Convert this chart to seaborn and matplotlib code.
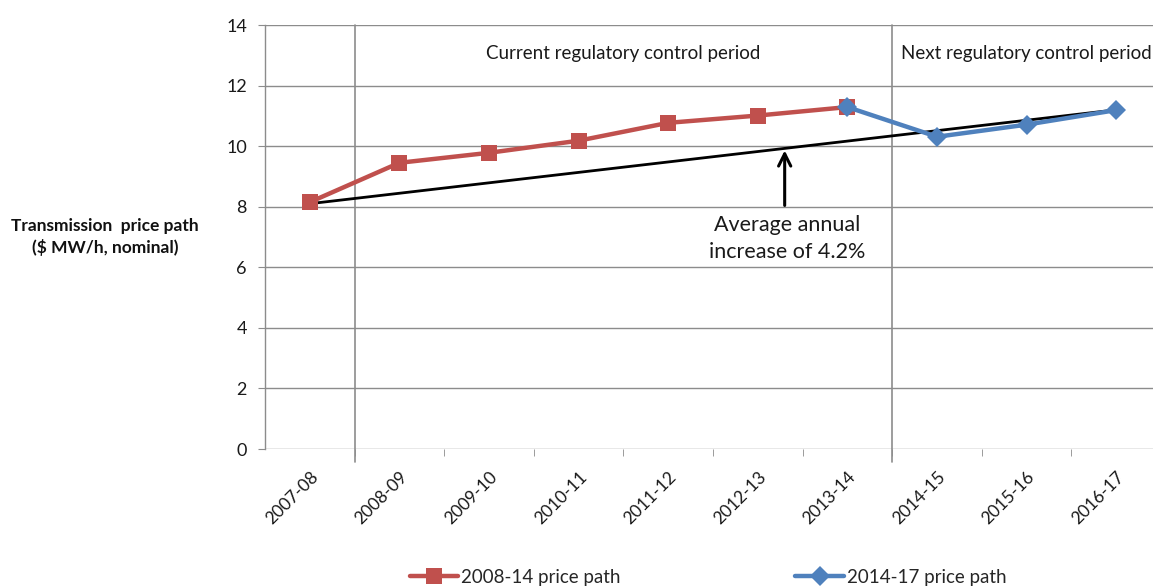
import matplotlib
matplotlib.use("Agg")
import matplotlib.pyplot as plt
import matplotlib.transforms as mtransforms
from matplotlib.lines import Line2D
import seaborn as sns
import pandas as pd

# Financial years on the category axis
years = ["2007-08", "2008-09", "2009-10", "2010-11", "2011-12",
         "2012-13", "2013-14", "2014-15", "2015-16", "2016-17"]

# 2008-14 price path ($ MW/h, nominal), 2007-08 to 2013-14
path_2008_14 = [8.15, 9.45, 9.78, 10.18, 10.77, 11.01, 11.29]
# 2014-17 price path, 2013-14 to 2016-17
path_2014_17 = [11.29, 10.31, 10.71, 11.19]
# Trend line for the average annual increase (first and last year)
trend = [8.1, 11.2]

yticks = [0, 2, 4, 6, 8, 10, 12, 14]

RED = "#C0504D"
BLUE = "#4F81BD"
GRID = "#8C8C8C"
TXT = "#1a1a1a"

sns.set_style("white")
plt.rcParams["font.family"] = ["Lato", "DejaVu Sans"]

fig = plt.figure(figsize=(11.53, 5.88), dpi=100)
ax = fig.add_axes([265 / 1153, 139 / 588, 896 / 1153, 424 / 588])

df_red = pd.DataFrame({"x": list(range(len(path_2008_14))), "y": path_2008_14})
df_blue = pd.DataFrame({"x": list(range(6, 6 + len(path_2014_17))), "y": path_2014_17})
df_trend = pd.DataFrame({"x": [0, len(years) - 1], "y": trend})

sns.lineplot(data=df_trend, x="x", y="y", ax=ax, color="black", lw=2.0, zorder=3)
sns.lineplot(data=df_red, x="x", y="y", ax=ax, color=RED, lw=3.2, marker="s",
             markersize=11.5, markeredgewidth=0, zorder=4)
sns.lineplot(data=df_blue, x="x", y="y", ax=ax, color=BLUE, lw=3.2, marker="D",
             markersize=10, markeredgewidth=0, zorder=5)

ax.set_xlim(-0.5, len(years) - 0.5)
ax.set_ylim(0, 14)
ax.set_xlabel("")
ax.set_ylabel("")

# horizontal gridlines
for v in yticks:
    ax.axhline(v, color=GRID, lw=1.0, zorder=1)

# regulatory period separators, extending below the axis
trans = mtransforms.blended_transform_factory(ax.transData, ax.transAxes)
for xb in [0.5, 6.5]:
    ax.plot([xb, xb], [-0.031, 1.0], transform=trans, color=GRID, lw=1.2,
            clip_on=False, zorder=1)

for side in ["top", "right", "bottom"]:
    ax.spines[side].set_visible(False)
ax.spines["left"].set_color(GRID)
ax.spines["left"].set_linewidth(1.0)

ax.set_yticks(yticks)
ax.set_yticklabels([str(v) for v in yticks], fontsize=13)
ax.tick_params(axis="y", direction="out", length=5, color=GRID, pad=8,
               left=True, labelcolor=TXT)

ax.set_xticks(range(len(years)))
ax.set_xticklabels(years, rotation=45, ha="right", rotation_mode="anchor",
                   fontsize=12.5, color=TXT)
ax.tick_params(axis="x", length=0, pad=14)
ax.set_xticks([i - 0.5 for i in range(1, len(years))], minor=True)
ax.tick_params(axis="x", which="minor", direction="out", length=5, color=GRID,
               bottom=True)

# period labels
ax.text(3.5, 13.05, "Current regulatory control period", ha="center",
        va="center", fontsize=13.5, color=TXT)
ax.text(6.6, 13.05, "Next regulatory control period", ha="left",
        va="center", fontsize=13.5, color=TXT)

# annotation for trend
ax.annotate("", xy=(5.3, 9.95), xytext=(5.3, 7.95),
            arrowprops=dict(arrowstyle="->", color="black", lw=2.2,
                            mutation_scale=22), zorder=6)
ax.text(5.33, 6.95, "Average annual\nincrease of 4.2%", ha="center",
        va="center", fontsize=15.5, color=TXT, linespacing=1.45)

fig.text(105 / 1153, 1 - 237 / 588, "Transmission  price path\n($ MW/h, nominal)",
         ha="center", va="center", fontsize=12.5, fontweight="bold",
         color="#111111", linespacing=1.4)

handles = [
    Line2D([], [], color=RED, lw=3.2, marker="s", markersize=11.5,
           markeredgewidth=0),
    Line2D([], [], color=BLUE, lw=3.2, marker="D", markersize=10,
           markeredgewidth=0),
]
fig.legend(handles, ["2008-14 price path", "2014-17 price path"],
           loc="center", bbox_to_anchor=(708 / 1153, 1 - 577 / 588),
           ncol=2, frameon=False, fontsize=13.5, handlelength=2.6,
           handletextpad=0.15, columnspacing=9.3)

fig.savefig("out.png", dpi=100)
